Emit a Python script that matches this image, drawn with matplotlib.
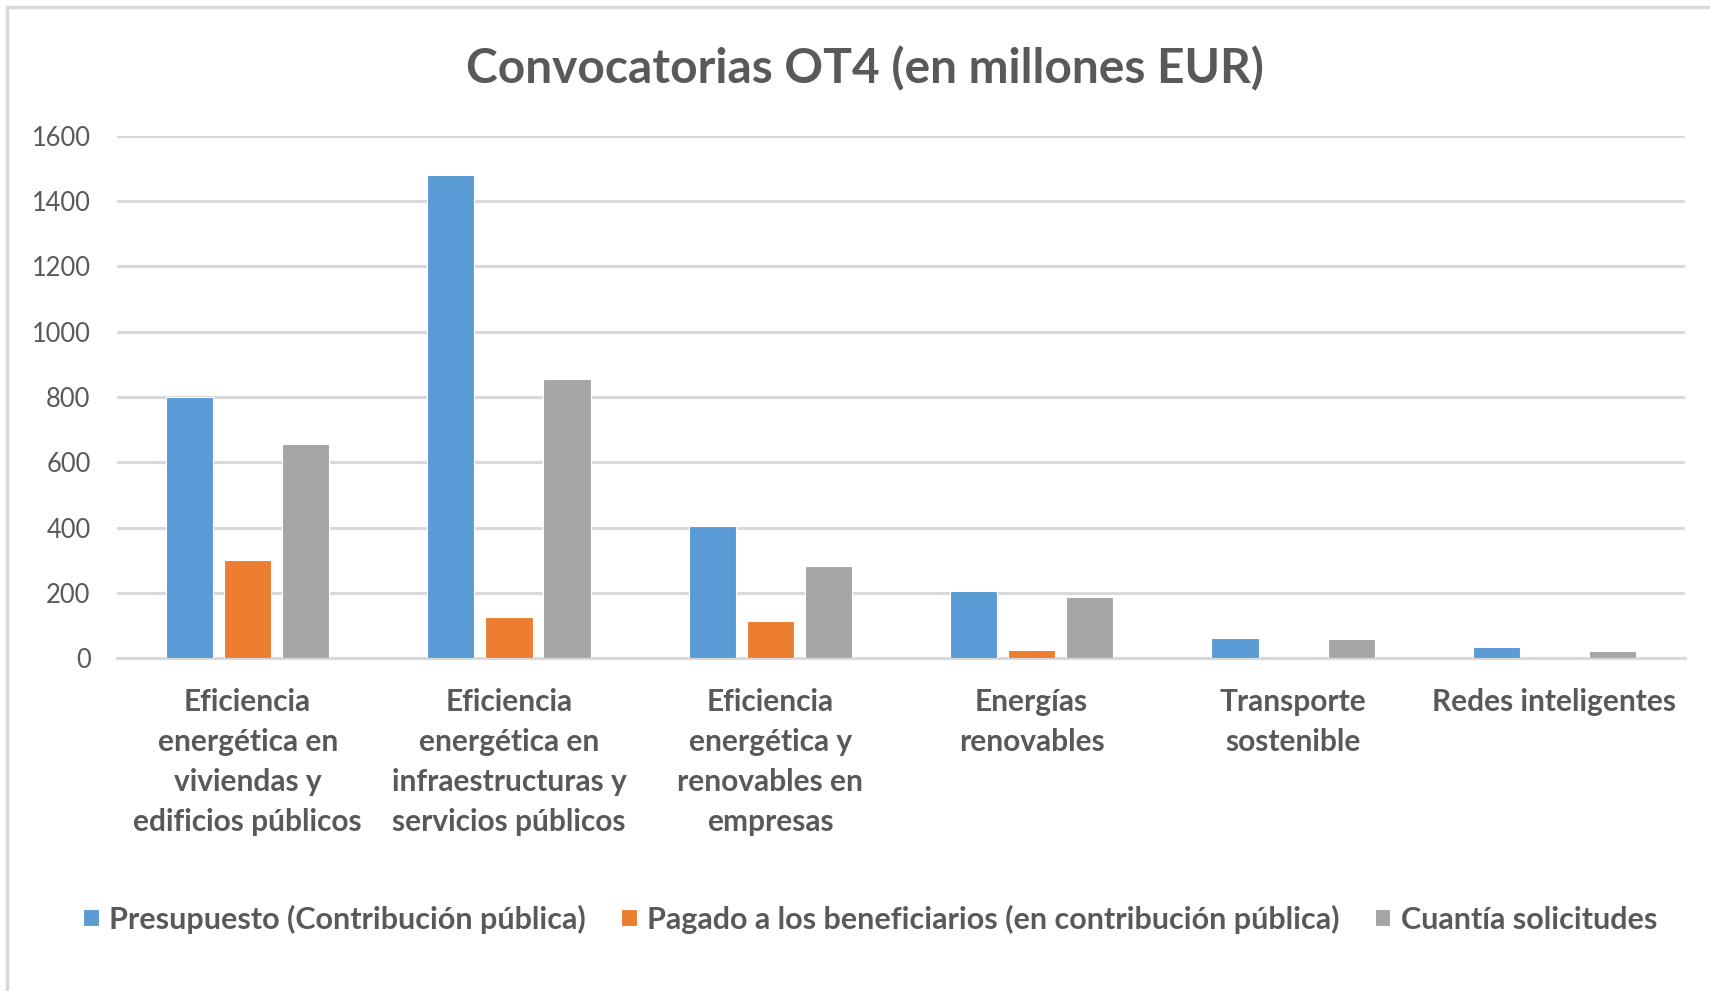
import numpy as np
import matplotlib
matplotlib.use('Agg')
import matplotlib.pyplot as plt
from matplotlib.patches import Rectangle

categorias = ['Eficiencia\nenergética en\nviviendas y\nedificios públicos',
              'Eficiencia\nenergética en\ninfraestructuras y\nservicios públicos',
              'Eficiencia\nenergética y\nrenovables en\nempresas',
              'Energías\nrenovables',
              'Transporte\nsostenible',
              'Redes inteligentes']
presupuesto = [800, 1479, 405, 206, 62, 33]
pagado = [301, 127, 114, 26, 0, 0]
solicitudes = [656, 854, 283, 186, 58, 23]

series = ['Presupuesto (Contribución pública)',
          'Pagado a los beneficiarios (en contribución pública)',
          'Cuantía solicitudes']
colores = ['#5B9BD5', '#ED7D31', '#A5A5A5']
gris = '#595959'

plt.rcParams['font.family'] = ['Lato', 'DejaVu Sans']

fig = plt.figure(figsize=(17.1, 9.91), dpi=100)
ax = fig.add_axes([0.0684, 0.336, 0.917, 0.5268])

# marco del gráfico
fig.patches.append(Rectangle((7 / 1710, -0.01), 1.02, 1 - 7 / 991 + 0.01,
                             transform=fig.transFigure, fill=False,
                             edgecolor='#d9d9d9', linewidth=2.5))

x = np.arange(len(categorias))
ancho = 0.18
paso = 0.222
for i, (vals, nombre) in enumerate(zip([presupuesto, pagado, solicitudes], series)):
    ax.bar(x + (i - 1) * paso, vals, ancho, color=colores[i], label=nombre,
           edgecolor='white', linewidth=0.8, zorder=3)

ax.set_xlim(-0.5, len(categorias) - 0.5)
ax.set_ylim(0, 1600)
ax.set_yticks(range(0, 1601, 200))
ax.yaxis.grid(True, color='#d9d9d9', linewidth=2.2, zorder=0)
for s in ['top', 'right', 'left']:
    ax.spines[s].set_visible(False)
ax.spines['bottom'].set_color('#d9d9d9')
ax.spines['bottom'].set_linewidth(2.2)
ax.tick_params(axis='both', length=0, colors=gris)
ax.tick_params(axis='y', labelsize=18.4, pad=19)
ax.tick_params(axis='x', pad=21.5)
ax.set_xticks(x)
ax.set_xticklabels(categorias, fontsize=21.5, fontweight='bold', color=gris,
                   linespacing=1.53, va='top')

fig.text(0.506, 0.931, 'Convocatorias OT4 (en millones EUR)', ha='center',
         va='center', fontsize=34.5, fontweight='bold', color=gris)

leg = ax.legend(loc='center', bbox_to_anchor=(0.509, 0.0727),
                bbox_transform=fig.transFigure, ncol=3, frameon=False,
                handlelength=0.5, handleheight=0.5, handletextpad=0.35,
                columnspacing=1.15, prop={'size': 22, 'weight': 'bold'})
for t in leg.get_texts():
    t.set_color(gris)

fig.savefig('out.png', dpi=100)
